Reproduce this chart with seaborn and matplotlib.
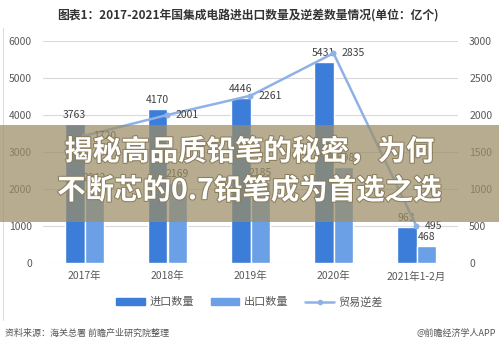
import matplotlib
matplotlib.use("Agg")
import matplotlib.pyplot as plt
import matplotlib.patheffects as pe
from matplotlib.patches import Patch, Rectangle
from matplotlib.lines import Line2D
import seaborn as sns
import pandas as pd
import numpy as np

categories = ["2017年", "2018年", "2019年", "2020年", "2021年1-2月"]
imports = [3763, 4170, 4446, 5431, 963]
exports = [2042, 2169, 2185, 2598, 468]
deficit = [1720, 2001, 2261, 2835, 495]
series_names = ["进口数量", "出口数量", "贸易逆差"]
left_ticks = [0, 1000, 2000, 3000, 4000, 5000, 6000]
right_ticks = [0, 500, 1000, 1500, 2000, 2500, 3000]

sns.set_theme(style="white")
plt.rcParams['font.family'] = ['Noto Sans CJK SC', 'DejaVu Sans']

c_imp = "#3b7dd8"
c_exp = "#6b9fe6"
c_line = "#8fb2e6"
txt = "#404040"

df = pd.DataFrame({
    "cat": categories * 2,
    "val": imports + exports,
    "series": [series_names[0]] * 5 + [series_names[1]] * 5,
})

fig = plt.figure(figsize=(4.99, 3.48), dpi=100)
ax = fig.add_axes([43 / 499, 1 - 263 / 348, 415 / 499, 222 / 348])
sns.barplot(data=df, x="cat", y="val", hue="series", palette=[c_imp, c_exp],
            width=0.48, gap=0, ax=ax, legend=False, saturation=1, zorder=2)
ax.set_ylim(0, 6000)
ax.set_yticks(left_ticks)
ax.set_xlim(-0.5, 4.5)
ax.grid(axis="y", color="#d9d9d9", linewidth=0.8, zorder=0)
ax.set_axisbelow(True)
for s in ax.spines.values():
    s.set_visible(False)
ax.set_xlabel("")
ax.set_ylabel("")
ax.tick_params(axis="both", length=0, labelsize=7.5, colors="#595959")
ax.tick_params(axis="y", pad=8)
ax.tick_params(axis="x", pad=6)

# bar labels
for cont in ax.containers:
    ax.bar_label(cont, fmt="%d", fontsize=7.5, color=txt, padding=3)

ax2 = ax.twinx()
sns.pointplot(x=categories, y=deficit, ax=ax2, color=c_line, markers="o",
              markersize=3, linewidth=1.8, errorbar=None)
ax2.set_ylim(0, 3000)
ax2.set_yticks(right_ticks)
ax2.set_xlim(-0.5, 4.5)
for s in ax2.spines.values():
    s.set_visible(False)
ax2.tick_params(axis="y", length=0, labelsize=7.5, colors="#595959", pad=8)
ax2.set_ylabel("")
ax2.grid(False)
for i, v in enumerate(deficit):
    ax2.annotate(f"{v}", (i, v), xytext=(6, 0), textcoords="offset points",
                 ha="left", va="center", fontsize=7.5, color=txt)

# title
fig.text(0.497, 1 - 15 / 348, "图表1：2017-2021年国集成电路进出口数量及逆差数量情况(单位：亿个)",
         ha="center", va="center", fontsize=8.5, fontweight="bold", color="#333333")

# legend
handles = [Patch(color=c_imp), Patch(color=c_exp),
           Line2D([0], [0], color=c_line, marker="o", markersize=3, linewidth=1.8)]
fig.legend(handles, series_names, loc="center", bbox_to_anchor=(0.5, 1 - 302 / 348),
           ncol=3, frameon=False, fontsize=8, handlelength=2.6, handleheight=0.7,
           columnspacing=1.5, handletextpad=0.4, labelcolor="#595959")

# source
fig.text(5 / 499, 1 - 333 / 348, "资料来源：海关总署 前瞻产业研究院整理", ha="left", va="center",
         fontsize=6.5, color="#555555")
fig.text(496 / 499, 1 - 333 / 348, "@前瞻经济学人APP", ha="right", va="center",
         fontsize=6.5, color="#555555")

# left border line
fig.add_artist(Line2D([3 / 499, 3 / 499], [1 - 320 / 348, 1 - 28 / 348], color="#dddddd",
                      linewidth=0.8, transform=fig.transFigure))

# banner overlay
fig.add_artist(Rectangle((0, 1 - 222 / 348), 1, 97 / 348, transform=fig.transFigure,
                         facecolor="#9c8d65", alpha=0.72, edgecolor="none", zorder=5))
for y, s in [(152, "揭秘高品质铅笔的秘密，为何"), (191, "不断芯的0.7铅笔成为首选之选")]:
    fig.text(0.5, 1 - y / 348, s, ha="center", va="center", fontsize=20.5,
             fontweight="bold", color="white", zorder=6,
             path_effects=[pe.withStroke(linewidth=1.5, foreground="#8a7d5c")])

fig.savefig("out.png", dpi=100)
